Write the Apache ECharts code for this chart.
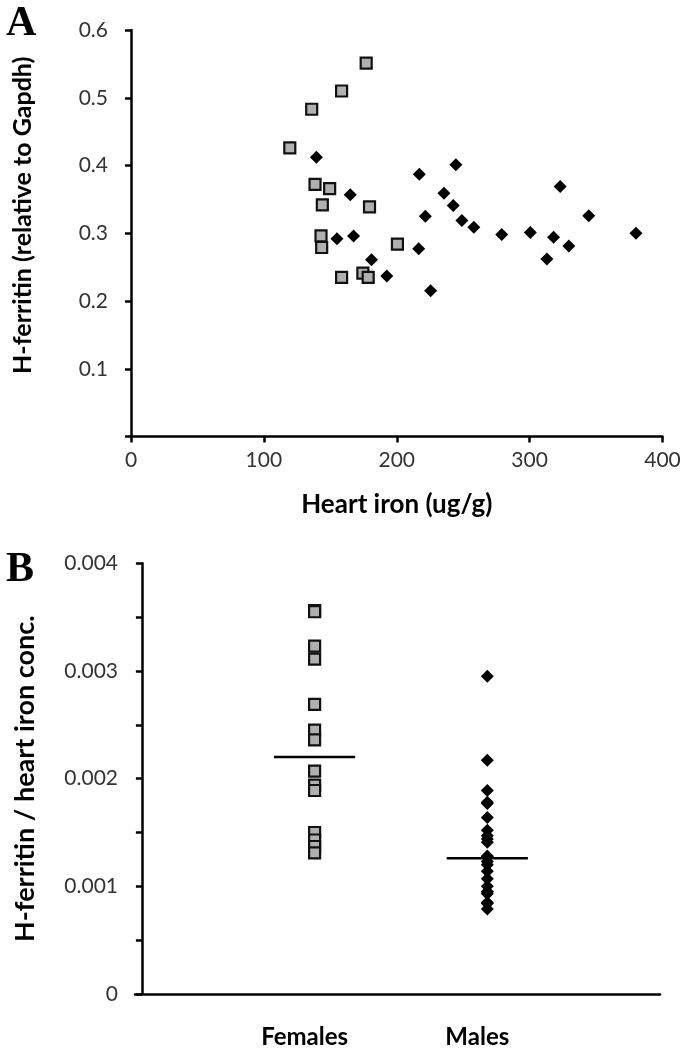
<!DOCTYPE html>
<html><head><meta charset="utf-8">
<script src="https://cdn.jsdelivr.net/npm/echarts@6/dist/echarts.min.js"></script>
<style>html,body{margin:0;padding:0;background:#fff}#c{width:684px;height:1049px}</style>
</head><body><div id="c"></div>
<script>
// ---- Panel A: H-ferritin vs heart iron ----
const femaleIron = [177, 158.5, 136, 119.5, 138.5, 149.5, 144, 179.5, 143, 143.5, 200.5, 158.5, 174.5, 178.5];
const femaleHFerritin = [0.551, 0.510, 0.483, 0.426, 0.372, 0.366, 0.342, 0.339, 0.296, 0.279, 0.284, 0.235, 0.241, 0.235];
const maleIron = [139.5, 165, 155, 167.5, 181, 192.5, 217, 244.5, 235.5, 242.5, 221.5, 249, 258, 279, 300.5, 323, 344.5, 318, 329.5, 313, 216.5, 225.5, 380];
const maleHFerritin = [0.412, 0.357, 0.292, 0.296, 0.261, 0.237, 0.387, 0.401, 0.359, 0.341, 0.325, 0.319, 0.309, 0.298, 0.301, 0.369, 0.326, 0.294, 0.281, 0.262, 0.277, 0.215, 0.300];
const ironTicks = [0, 100, 200, 300, 400];
const ferritinTicks = [0, 0.1, 0.2, 0.3, 0.4, 0.5, 0.6];

// ---- Panel B: H-ferritin / heart iron by sex ----
const groups = ['Females', 'Males'];
const femaleRatio = [0.00356, 0.00355, 0.00323, 0.00311, 0.00269, 0.00245, 0.00236, 0.00207, 0.00194, 0.00189, 0.00150, 0.00143, 0.00137, 0.00131];
const maleRatio = [0.00295, 0.00217, 0.00189, 0.00178, 0.00177, 0.00164, 0.00152, 0.00147, 0.00144, 0.00141, 0.00128, 0.00128, 0.00123, 0.00120, 0.00114, 0.00107, 0.00100, 0.00095, 0.00095, 0.00093, 0.00085, 0.00084, 0.00079];
const groupMedians = [0.00220, 0.00126];
const ratioTicks = [0, 0.001, 0.002, 0.003, 0.004];

const FONT = 'Lato';
const femaleStyle = { color: '#b0b0b0', borderColor: '#111', borderWidth: 2.2, opacity: 1 };
const maleStyle = { color: '#000', opacity: 1 };
const axisLine = { show: true, lineStyle: { color: '#000', width: 2.5 } };
const tick = { show: true, inside: false, length: 6, lineStyle: { color: '#000', width: 2.5 } };
const labelStyle = { fontFamily: FONT, fontSize: 21, color: '#333' };
const nameStyle = { fontFamily: FONT, fontSize: 25, fontWeight: 'bold', color: '#000' };
const letterStyle = { fontFamily: 'Liberation Serif', fontWeight: 'bold', fontSize: 42, color: '#000' };
const halfWidth = 0.235;

const chart = echarts.init(document.getElementById('c'), null, { renderer: 'canvas' });
chart.setOption({
  animation: false,
  backgroundColor: '#fff',
  title: [
    { text: 'A', left: 6, top: 3, padding: 0, textStyle: letterStyle },
    { text: 'B', left: 6, top: 549, padding: 0, textStyle: letterStyle }
  ],
  grid: [
    { left: 131, top: 30, width: 531.5, height: 406.5 },
    { left: 135, top: 563.3, width: 525, height: 430.7 }
  ],
  xAxis: [
    {
      gridIndex: 0, type: 'value', min: ironTicks[0], max: ironTicks[ironTicks.length - 1], interval: 100,
      axisLine, axisTick: tick, splitLine: { show: false },
      axisLabel: { ...labelStyle, margin: 13 },
      name: 'Heart iron (ug/g)', nameLocation: 'middle', nameGap: 55, nameTextStyle: { ...nameStyle, fontSize: 26 }
    },
    {
      gridIndex: 1, type: 'value', min: -0.04, max: 3,
      axisLine, axisTick: { show: false }, splitLine: { show: false },
      axisLabel: { customValues: [1, 2], fontFamily: FONT, fontSize: 24, fontWeight: 'bold', color: '#000', margin: 31,
        padding: [0, 20, 0, 0],
        formatter: v => groups[Math.round(v) - 1] || '' }
    }
  ],
  yAxis: [
    {
      gridIndex: 0, type: 'value', min: ferritinTicks[0], max: ferritinTicks[ferritinTicks.length - 1], interval: 0.1,
      axisLine, axisTick: tick, splitLine: { show: false },
      axisLabel: { ...labelStyle, margin: 23, formatter: v => v === 0 ? '' : v.toFixed(1) },
      name: 'H-ferritin (relative to Gapdh)', nameLocation: 'middle', nameGap: 96,
      nameTextStyle: { ...nameStyle, padding: [0, 0, 0, 36] }
    },
    {
      gridIndex: 1, type: 'value', min: ratioTicks[0], max: ratioTicks[ratioTicks.length - 1], interval: 0.0005,
      axisLine, axisTick: tick, splitLine: { show: false },
      axisLabel: { ...labelStyle, margin: 17, formatter: v => {
        const k = Math.round(v / 0.0005);
        if (k % 2 !== 0) return '';
        return k === 0 ? '0' : (k * 0.0005).toFixed(3);
      } },
      name: 'H-ferritin / heart iron conc.', nameLocation: 'middle', nameGap: 96, nameTextStyle: { ...nameStyle, fontSize: 27 }
    }
  ],
  series: [
    { type: 'scatter', xAxisIndex: 0, yAxisIndex: 0, symbol: 'rect', symbolSize: 11, itemStyle: femaleStyle,
      data: femaleIron.map((x, i) => [x, femaleHFerritin[i]]) },
    { type: 'scatter', xAxisIndex: 0, yAxisIndex: 0, symbol: 'diamond', symbolSize: 13, itemStyle: maleStyle,
      data: maleIron.map((x, i) => [x, maleHFerritin[i]]) },
    { type: 'scatter', xAxisIndex: 1, yAxisIndex: 1, symbol: 'rect', symbolSize: 11, itemStyle: femaleStyle,
      data: femaleRatio.map(v => [1, v]) },
    { type: 'scatter', xAxisIndex: 1, yAxisIndex: 1, symbol: 'diamond', symbolSize: 13, itemStyle: maleStyle,
      data: maleRatio.map(v => [2, v]) },
    ...groupMedians.map((m, i) => ({
      type: 'line', xAxisIndex: 1, yAxisIndex: 1, symbol: 'none', z: 5,
      lineStyle: { color: '#000', width: 2.5 },
      data: [[i + 1 - halfWidth, m], [i + 1 + halfWidth, m]]
    }))
  ]
});
</script></body></html>
